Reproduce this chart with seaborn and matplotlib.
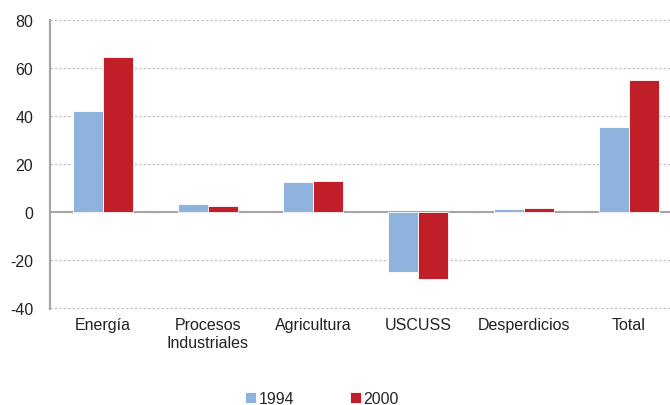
import matplotlib
matplotlib.use('Agg')
import matplotlib.pyplot as plt
import seaborn as sns
import pandas as pd

categories = ['Energía', 'Procesos\nIndustriales', 'Agricultura', 'USCUSS', 'Desperdicios', 'Total']
values_1994 = [42.3, 3.4, 12.7, -24.9, 1.2, 35.3]
values_2000 = [64.8, 2.4, 13.0, -27.7, 1.9, 55.1]
years = ['1994', '2000']

df = pd.DataFrame({
    'categoria': categories * 2,
    'valor': values_1994 + values_2000,
    'anio': [years[0]] * len(categories) + [years[1]] * len(categories),
})

sns.set_style('white')
plt.rcParams['font.family'] = ['Liberation Sans', 'DejaVu Sans']
plt.rcParams['axes.unicode_minus'] = False

fig = plt.figure(figsize=(6.7, 4.06), dpi=100)
ax = fig.add_axes([50 / 670, 1 - 310 / 406, 620 / 670, 289 / 406])

sns.barplot(data=df, x='categoria', y='valor', hue='anio',
            palette=['#8FB3DD', '#C01F28'], saturation=1, width=0.57,
            edgecolor='white', linewidth=0.6, ax=ax, zorder=3)

ax.set_ylim(-40.3, 80)
ax.set_yticks(range(-40, 81, 20))
ax.set_xlim(-0.5, 5.39)
ax.yaxis.grid(True, linestyle=(0, (2, 2)), color='#BBBBBB', linewidth=0.8)
ax.set_axisbelow(True)
ax.axhline(0, color='#A6A6A6', linewidth=1.5, zorder=2)
for s in ['top', 'right', 'bottom']:
    ax.spines[s].set_visible(False)
ax.spines['left'].set_color('#A6A6A6')
ax.spines['left'].set_linewidth(1.6)
ax.tick_params(axis='both', length=0, labelsize=11.5, colors='#222222', pad=6)
ax.tick_params(axis='y', pad=12)
ax.set_xlabel('')
ax.set_ylabel('')

ax.legend(loc='upper center', bbox_to_anchor=(0.5 - 38 / 620, -0.235), ncol=2, frameon=False,
          fontsize=11.5, handlelength=0.7, handleheight=0.7, handletextpad=0.15,
          columnspacing=3.5)

fig.savefig('out.png', dpi=100)
